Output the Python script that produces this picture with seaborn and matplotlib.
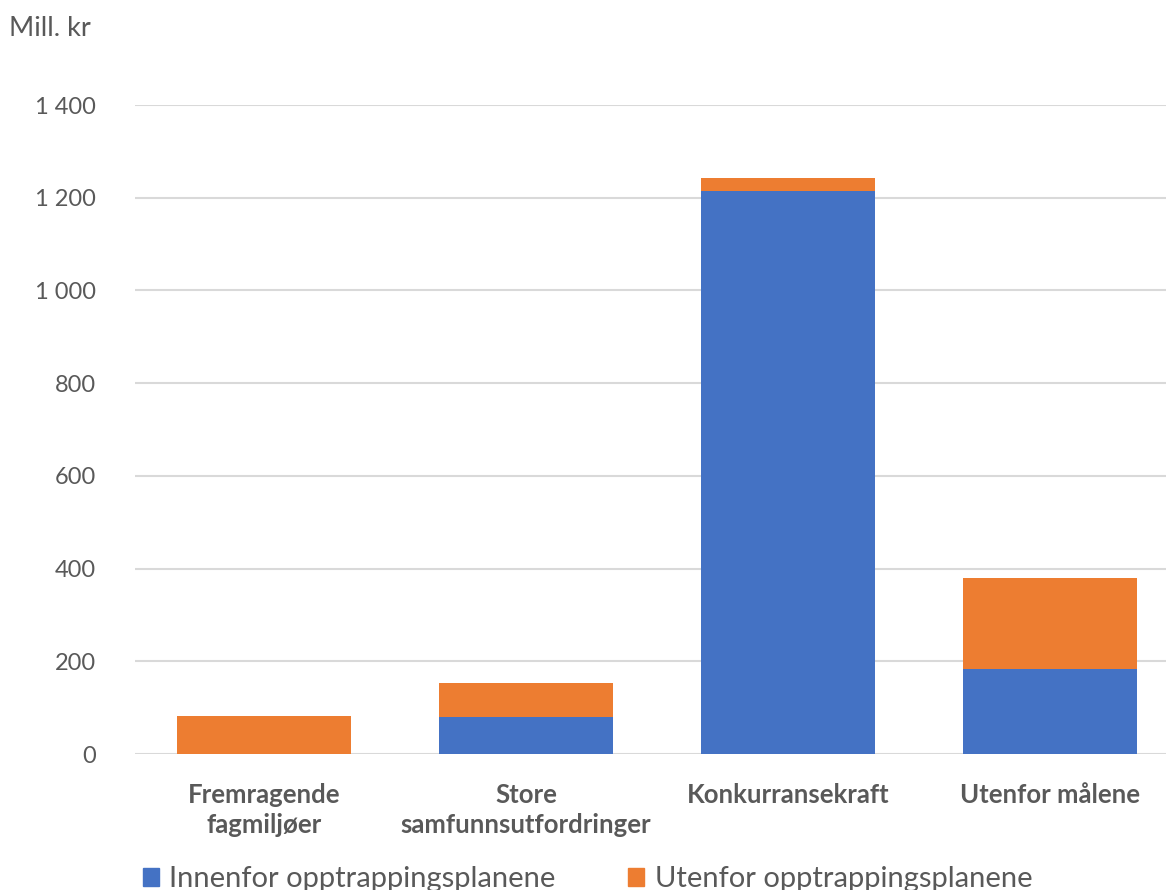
import pandas as pd
import seaborn as sns
import matplotlib
matplotlib.use('Agg')
import matplotlib.pyplot as plt
from matplotlib.patches import Patch

# Data (mill. kr)
categories = ["Fremragende\nfagmiljøer", "Store\nsamfunnsutfordringer",
              "Konkurransekraft", "Utenfor målene"]
innenfor = [0, 80, 1214, 183]
utenfor = [82, 73, 28, 197]
yticks = [0, 200, 400, 600, 800, 1000, 1200, 1400]
ytick_labels = ["0", "200", "400", "600", "800", "1 000", "1 200", "1 400"]

blue = "#4472C4"
orange = "#ED7D31"
grey = "#595959"

df = pd.DataFrame({"kategori": categories, "innenfor": innenfor, "utenfor": utenfor})
df["total"] = df["innenfor"] + df["utenfor"]

sns.set_style("white")
plt.rcParams['font.family'] = ['Lato', 'DejaVu Sans']

fig = plt.figure(figsize=(11.66, 8.9), dpi=100)
ax = fig.add_axes([0.1158, 0.1528, 0.8842, 0.7292])

sns.barplot(data=df, x="kategori", y="total", color=orange, width=0.664,
            saturation=1, linewidth=0, ax=ax, zorder=2)
sns.barplot(data=df, x="kategori", y="innenfor", color=blue, width=0.664,
            saturation=1, linewidth=0, ax=ax, zorder=3)

ax.set_xlim(-0.492, 3.443)
ax.set_ylim(0, 1400)
ax.set_yticks(yticks)
ax.set_yticklabels(ytick_labels)
ax.yaxis.grid(True, color="#D9D9D9", linewidth=1.5, zorder=0)
ax.set_axisbelow(True)
for s in ax.spines.values():
    s.set_visible(False)
ax.tick_params(axis='y', length=0, pad=28, labelsize=17, labelcolor=grey)
ax.tick_params(axis='x', length=0, pad=21, labelcolor=grey)
for lbl in ax.get_xticklabels():
    lbl.set_fontsize(18.5)
    lbl.set_fontweight('bold')
    lbl.set_linespacing(1.3)
ax.set_xlabel("")
ax.set_ylabel("")

fig.text(0.008, 0.968, "Mill. kr", fontsize=19.5, color=grey, va='center', ha='left')

handles = [Patch(color=blue, label="Innenfor opptrappingsplanene"),
           Patch(color=orange, label="Utenfor opptrappingsplanene")]
fig.legend(handles=handles, loc='center left', bbox_to_anchor=(0.1, 0.012),
           ncol=2, frameon=False, fontsize=21, labelcolor=grey,
           handlelength=0.55, handleheight=0.55, handletextpad=0.35, columnspacing=2.5)

fig.savefig("out.png", dpi=100)
